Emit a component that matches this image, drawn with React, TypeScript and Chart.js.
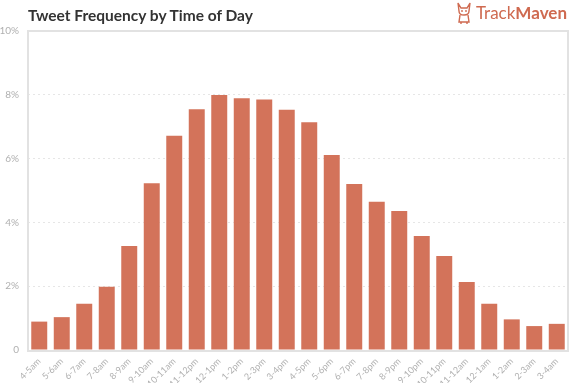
import React, { useEffect, useRef } from 'react';
import { Chart, registerables } from 'chart.js';

Chart.register(...registerables);

const categories = [
  '4-5am', '5-6am', '6-7am', '7-8am', '8-9am', '9-10am', '10-11am', '11-12pm',
  '12-1pm', '1-2pm', '2-3pm', '3-4pm', '4-5pm', '5-6pm', '6-7pm', '7-8pm',
  '8-9pm', '9-10pm', '10-11pm', '11-12am', '12-1am', '1-2am', '2-3am', '3-4am',
];

const frequency = [
  0.89, 1.03, 1.45, 1.98, 3.26, 5.23, 6.72, 7.55,
  7.99, 7.89, 7.85, 7.53, 7.14, 6.11, 5.2, 4.65,
  4.36, 3.57, 2.95, 2.13, 1.45, 0.96, 0.75, 0.82,
];

const yMin = 0;
const yMax = 10;
const yStep = 2;

const titleText = 'Tweet Frequency by Time of Day';

const BAR_COLOR = '#d3735a';

const framePlugin = {
  id: 'frame',
  beforeDatasetsDraw(chart: any) {
    const { ctx, chartArea: a } = chart;
    ctx.save();
    ctx.strokeStyle = '#e2e2e2';
    ctx.lineWidth = 2;
    ctx.strokeRect(a.left, a.top, a.right - a.left, a.bottom - a.top + 1);
    ctx.restore();
  },
};

function Logo() {
  return (
    <div
      style={{
        position: 'absolute',
        right: 8,
        top: 1,
        display: 'flex',
        alignItems: 'center',
        color: '#cf6a50',
        fontFamily: 'Lato, sans-serif',
        fontSize: 17,
        lineHeight: '24px',
      }}
    >
      <svg width="16" height="22" viewBox="0 0 16 22" style={{ marginRight: 4 }}>
        <path d="M2 1 L5 6 L11 6 L14 1 L13 9 Q13 13 8 13 Q3 13 3 9 Z" fill="none" stroke="#cf6a50" strokeWidth="1.4" />
        <circle cx="6" cy="9" r="0.9" fill="#cf6a50" />
        <circle cx="10" cy="9" r="0.9" fill="#cf6a50" />
        <path d="M4 13 L3 20 L13 20 L12 13" fill="none" stroke="#cf6a50" strokeWidth="1.4" />
        <path d="M5 20 L5 22 M11 20 L11 22" stroke="#cf6a50" strokeWidth="1.4" />
      </svg>
      <span style={{ fontWeight: 400 }}>Track</span>
      <span style={{ fontWeight: 700 }}>Maven</span>
    </div>
  );
}

export default function App() {
  const canvasRef = useRef<HTMLCanvasElement | null>(null);

  useEffect(() => {
    if (!canvasRef.current) return;
    const chart = new Chart(canvasRef.current, {
      type: 'bar',
      data: {
        labels: categories,
        datasets: [
          {
            data: frequency,
            backgroundColor: BAR_COLOR,
            borderWidth: 0,
            barPercentage: 0.71,
            categoryPercentage: 1,
          },
        ],
      },
      options: {
        animation: false,
        responsive: false,
        maintainAspectRatio: false,
        layout: { padding: { top: 31, right: 7, left: 0, bottom: 0 } },
        plugins: {
          legend: { display: false },
          tooltip: { enabled: false },
          title: { display: false },
        },
        scales: {
          x: {
            grid: { display: false, drawTicks: false },
            border: { display: false },
            ticks: {
              autoSkip: false,
              minRotation: 45,
              maxRotation: 45,
              padding: 6,
              color: '#b0b0b0',
              font: { family: 'Lato, sans-serif', size: 9 },
            },
            afterFit(scale: any) {
              scale.height = 33;
            },
          },
          y: {
            min: yMin,
            max: yMax,
            grid: {
              drawTicks: false,
              lineWidth: 1,
              color: (ctx: any) =>
                ctx.tick && (ctx.tick.value === yMin || ctx.tick.value === yMax)
                  ? 'rgba(0,0,0,0)'
                  : '#e6e6e6',
            },
            border: { display: false, dash: [2, 3] },
            ticks: {
              stepSize: yStep,
              padding: 9,
              color: '#b0b0b0',
              font: { family: 'Lato, sans-serif', size: 10 },
              callback: (v: any) => (Number(v) === 0 ? '0' : `${v}%`),
            },
            afterFit(scale: any) {
              scale.width = 28;
            },
          },
        },
      },
      plugins: [framePlugin],
    });
    return () => chart.destroy();
  }, []);

  return (
    <div style={{ position: 'fixed', left: 0, top: 0, width: 575, height: 383, background: '#fff' }}>
      <canvas ref={canvasRef} width={575} height={383} style={{ position: 'absolute', left: 0, top: 0 }} />
      <div
        style={{
          position: 'absolute',
          left: 28,
          top: 5,
          fontFamily: 'Lato, sans-serif',
          fontWeight: 700,
          fontSize: 15.5,
          color: '#333',
          lineHeight: '20px',
        }}
      >
        {titleText}
      </div>
      <Logo />
    </div>
  );
}
